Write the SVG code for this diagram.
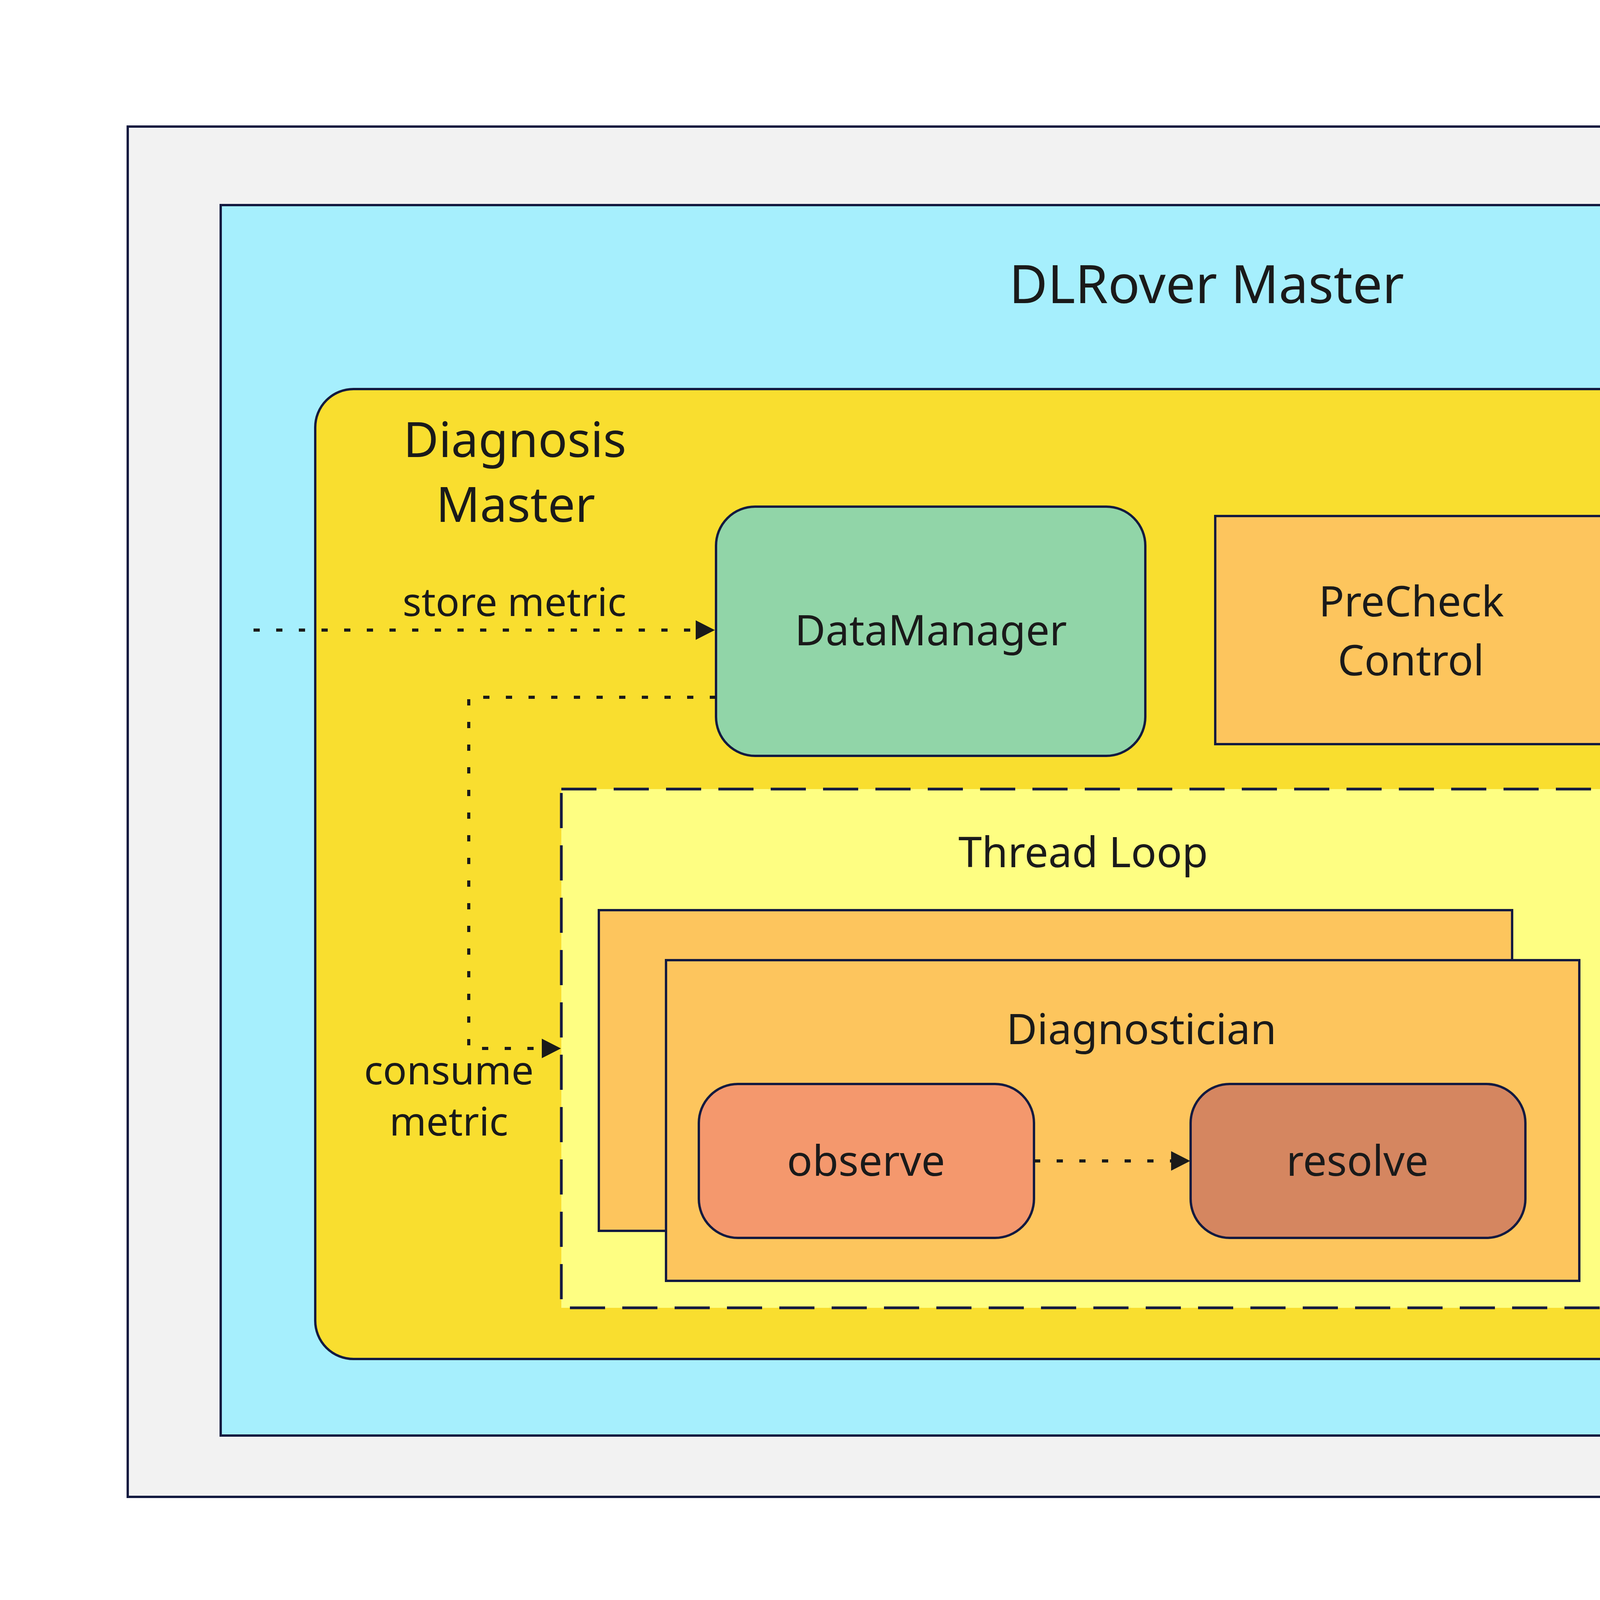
<svg xmlns="http://www.w3.org/2000/svg" width="7558" height="4158" viewBox="0 0 7558 4158">
<style>
text{font-family:"Noto Sans","Open Sans","DejaVu Sans",sans-serif;fill:#1a1a1a;text-anchor:middle}
.box{stroke:#131a40;stroke-width:6}
.t108{font-size:108px}
.lbl{font-size:101px}
.solid{fill:none;stroke:#1a1a1a;stroke-width:7}
.dot{fill:none;stroke:#1a1a1a;stroke-width:8;stroke-dasharray:16 42}
</style>
<defs>
<marker id="arr" markerUnits="userSpaceOnUse" viewBox="0 -26 50 52" markerWidth="50" markerHeight="52" refX="1" refY="0" orient="auto" overflow="visible">
<path d="M0,-25 L49,0 L0,25 Z" fill="#1a1a1a"/>
</marker>
</defs>
<rect width="7558" height="4158" fill="#ffffff"/>
<g id="outer">
<rect class="box" x="327" y="324" width="6867" height="3508" fill="#f2f2f2"/>
</g>
<g id="dlrover-master">
<rect class="box" x="565" y="525" width="5041" height="3150" fill="#a6effd"/>
<text x="3089" y="776" style="font-size:135px">DLRover Master</text>
</g>
<g id="diagnosis-master">
<rect class="box" x="807" y="996" width="3542" height="2483" rx="98" ry="98" fill="#f9de2f"/>
<text x="1318" y="1170" style="font-size:124px">Diagnosis</text>
<text x="1320" y="1336" style="font-size:124px">Master</text>
</g>
<g id="datamanager">
<rect class="box" x="1833" y="1297" width="1099" height="638" rx="100" ry="100" fill="#91d5a8"/>
<text class="t108" x="2383" y="1652">DataManager</text>
</g>
<g id="precheck">
<rect class="box" x="3111" y="1321" width="1003" height="584" fill="#fdc55d"/>
<text class="t108" x="3613" y="1578">PreCheck</text>
<text class="t108" x="3612" y="1729">Control</text>
</g>
<g id="job-manager">
<rect class="box" x="4582" y="996" width="867" height="1422" rx="98" ry="98" fill="#89b0f5"/>
<text class="t108" x="5013" y="1672">Job</text>
<text class="t108" x="5016" y="1821">Manager</text>
</g>
<g id="thread-loop">
<rect x="1437" y="2020" width="2675" height="1328" fill="#fefe82" stroke="#131a40" stroke-width="7" stroke-dasharray="90 44"/>
<text class="t108" x="2773" y="2220">Thread Loop</text>
</g>
<g id="diagnostician-back">
<rect class="box" x="1533" y="2330" width="2338" height="821" fill="#fdc55d"/>
</g>
<g id="diagnostician">
<rect class="box" x="1705" y="2458" width="2338" height="821" fill="#fdc55d"/>
<text class="t108" x="2922" y="2673">Diagnostician</text>
</g>
<g id="observe">
<rect class="box" x="1789" y="2775" width="858" height="394" rx="100" ry="100" fill="#f4986d"/>
<text class="t108" x="2217" y="3010">observe</text>
</g>
<g id="resolve">
<rect class="box" x="3048" y="2775" width="857" height="394" rx="100" ry="100" fill="#d58660"/>
<text class="t108" x="3475" y="3010">resolve</text>
</g>
<g id="jobcontext">
<rect class="box" x="4582" y="2766" width="867" height="713" fill="#ac91f7"/>
<text x="5013" y="3160" style="font-size:112px">JobContext</text>
</g>
<g id="connectors">
<path class="dot" d="M649,1613 H1782" marker-end="url(#arr)"/>
<path class="dot" d="M1833,1785 H1200 V2684 H1388" marker-end="url(#arr)"/>
<path class="solid" d="M4114,1614 H4533" marker-end="url(#arr)"/>
<path class="solid" d="M5449,1620 H6188" marker-end="url(#arr)"/>
<path class="dot" d="M2647,2972 H2999" marker-end="url(#arr)"/>
<path class="dot" d="M4112,2685 H4424 V3123 H4531" marker-end="url(#arr)"/>
<path class="dot" d="M5016,2766 V2472" marker-end="url(#arr)"/>
<text class="lbl" x="1317" y="1577">store metric</text>
<text class="lbl" x="1149" y="2776">consume</text>
<text class="lbl" x="1149" y="2907">metric</text>
<text class="lbl" x="4592" y="2565">produce</text>
<text class="lbl" x="4591" y="2697">action</text>
<text class="lbl" x="5277" y="2594">consume</text>
<text class="lbl" x="5278" y="2729">action</text>
<text class="t108" x="6032" y="1774">job</text>
<text class="t108" x="6036" y="1924">management</text>
</g>
<g id="legend">
<path class="solid" d="M5792,575 H6251" style="stroke-width:9" marker-end="url(#arr)"/>
<path class="dot" d="M5799,867 H6259" style="stroke-width:9;stroke-dasharray:14 44" marker-end="url(#arr)"/>
<path d="M5805,1158 H6340" fill="none" stroke="#1a1a1a" stroke-width="9" stroke-dasharray="8 42 90 40 20 40 90 40 20 40 90"/>
<text class="t108" x="6802" y="607">control panel</text>
<text class="t108" x="6802" y="890">data panel</text>
<text class="t108" x="6800" y="1198">expansion</text>
</g>
</svg>
